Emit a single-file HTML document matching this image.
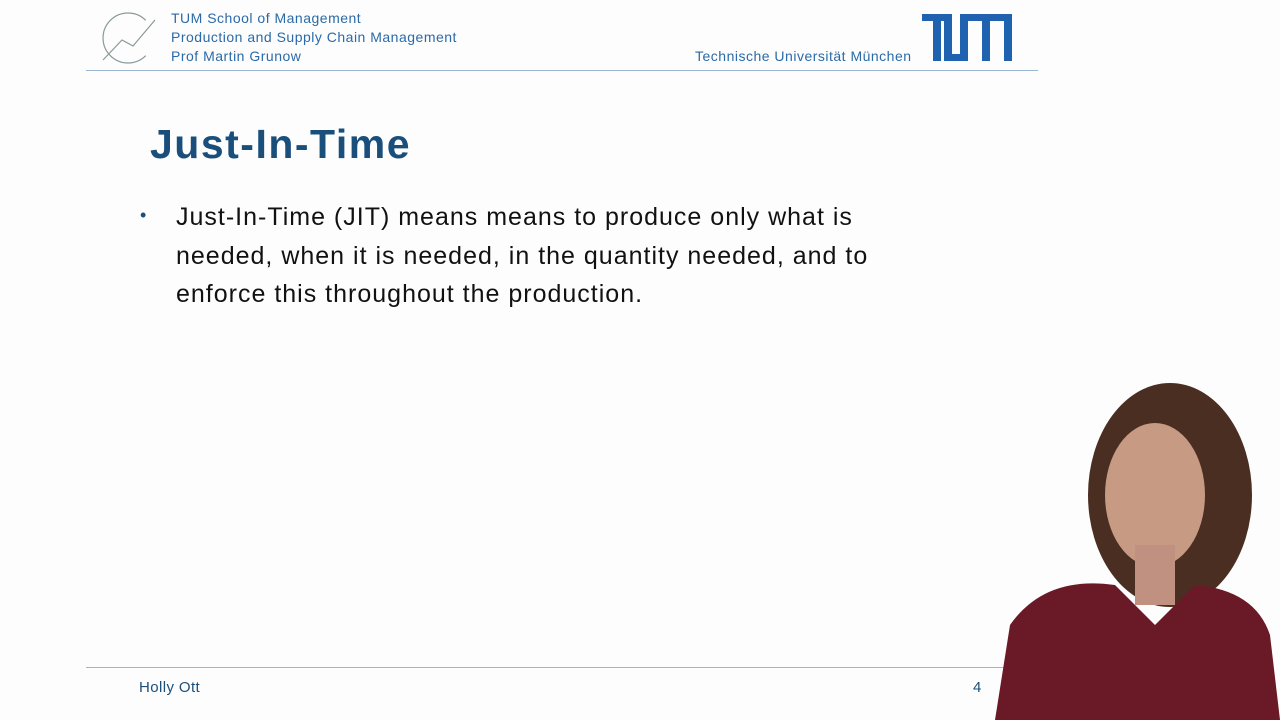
<!DOCTYPE html>
<html><head><meta charset="utf-8">
<style>
html,body{margin:0;padding:0;width:1280px;height:720px;overflow:hidden;background:#fdfdfd;font-family:"Liberation Sans",sans-serif;}
.a{position:absolute;}
.hdr{color:#2a6aa8;font-size:14px;line-height:19px;letter-spacing:0.5px;}
</style></head><body>
<div class="a" style="left:100px;top:10px;width:60px;height:56px;">
<svg width="60" height="56"><path d="M45.7 10.3 A25 25 0 1 0 45.7 45.7" fill="none" stroke="#8a9a9a" stroke-width="1.2"/><path d="M3 50 L22 30 L33 36 L55 10" fill="none" stroke="#8a9a9a" stroke-width="1.2"/></svg>
</div>
<div class="a hdr" style="left:171px;top:9px;">TUM School of Management<br>Production and Supply Chain Management<br>Prof Martin Grunow</div>
<div class="a hdr" style="left:695px;top:47px;">Technische Universität München</div>
<svg class="a" style="left:922px;top:14px" width="90" height="47">
<g fill="#1f63b0"><rect x="0" y="0" width="30" height="7"/><rect x="11" y="0" width="8" height="47"/><rect x="22" y="0" width="8" height="47"/><rect x="22" y="40" width="24" height="7"/><rect x="38" y="0" width="8" height="47"/><rect x="38" y="0" width="52" height="7"/><rect x="60" y="0" width="8" height="47"/><rect x="82" y="0" width="8" height="47"/></g></svg>
<div class="a" style="left:86px;top:70px;width:952px;height:1px;background:#9bb6d0;"></div>
<div class="a" style="left:150px;top:121px;font-size:41px;letter-spacing:1.5px;font-weight:bold;color:#1a4f7c;">Just-In-Time</div>
<div class="a" style="left:140px;top:205px;font-size:18px;color:#1a4f7c;">•</div>
<div class="a" style="left:176px;top:198px;font-size:25px;letter-spacing:1px;line-height:38.5px;color:#111;width:900px;">Just-In-Time (JIT) means means to produce only what is<br>needed, when it is needed, in the quantity needed, and to<br>enforce this throughout the production.</div>
<div class="a" style="left:86px;top:667px;width:952px;height:1px;background:#9bb6d0;"></div>
<div class="a" style="left:139px;top:679px;font-size:15px;letter-spacing:0.4px;color:#1a4f7c;">Holly Ott</div>
<div class="a" style="left:973px;top:679px;font-size:15px;color:#1a4f7c;">4</div>
<svg class="a" style="left:985px;top:375px" width="295" height="345">
<ellipse cx="185" cy="120" rx="82" ry="112" fill="#4a2e22"/>
<ellipse cx="170" cy="120" rx="50" ry="72" fill="#c79a84"/>
<rect x="150" y="170" width="40" height="60" fill="#c09080"/>
<path d="M10 345 L25 250 Q60 200 130 210 L170 250 L210 210 Q270 215 285 260 L295 345 Z" fill="#6a1a26"/>
</svg>
</body></html>
